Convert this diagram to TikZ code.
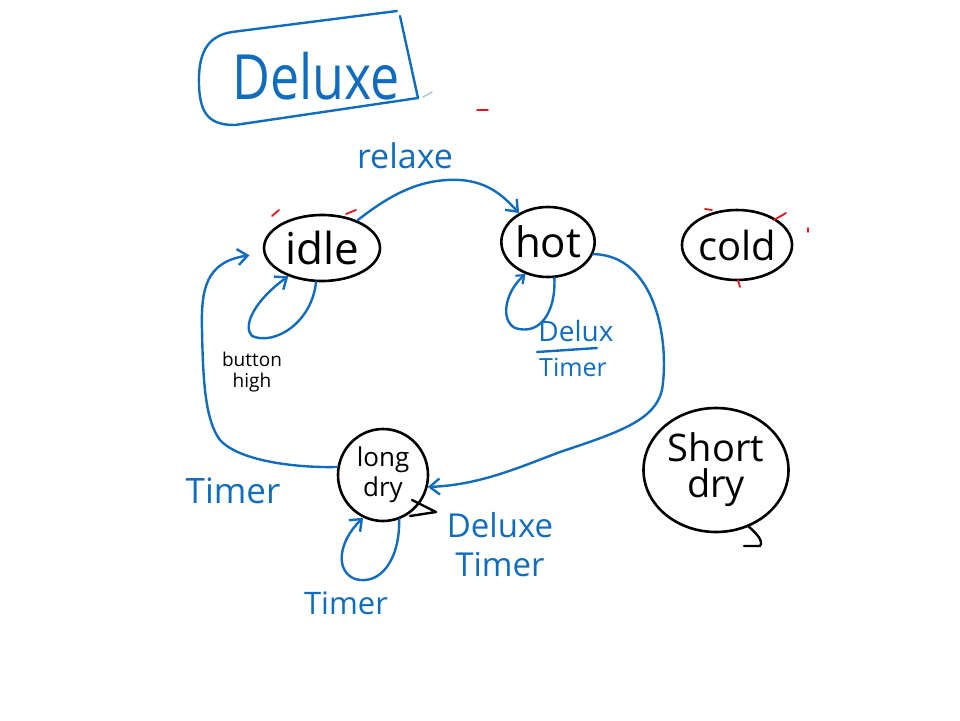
\documentclass[tikz,border=0pt]{standalone}
\usepackage{fontspec}
\setmainfont{Open Sans}
\usetikzlibrary{shapes.geometric,arrows.meta}
\definecolor{ink}{RGB}{18,108,190}
\definecolor{mark}{RGB}{225,20,30}
\begin{document}
\begin{tikzpicture}[x=1pt,y=-1pt,line cap=round,line join=round,
  state/.style={draw=black,line width=2.6pt,ellipse,inner sep=0pt,align=center},
  wire/.style={draw=ink,line width=2.4pt},
  tip/.style={-{Straight Barb[length=10pt,width=16pt,line width=2.4pt]}},
  lbl/.style={text=ink,inner sep=0pt},
  fs/.style={font=\fontsize{#1}{#1}\selectfont},
  tick/.style={draw=mark,line width=1.8pt}]
\useasboundingbox (0,0) rectangle (960,720);

% title frame
\draw[wire] (397,11) -- (232,32) .. controls (206,36) and (198,55) .. (199,85)
  .. controls (200,115) and (210,125) .. (235,125) -- (418,98) -- (400,16);
\node[lbl,fs=52,yscale=1.2] (title) at (316,76) {Deluxe};
\draw[draw=ink!45,line width=1.2pt] (423,97) -- (432,92);

% states
\node[state,minimum width=116pt,minimum height=66pt,fs=44] (idle) at (322,248) {idle};
\node[state,minimum width=84pt,minimum height=70pt,fs=42] (hot) at (548,242) {hot};
\node[state,minimum width=106pt,minimum height=70pt,fs=40] (cold) at (737,245) {cold};
\node[state,minimum width=90pt,minimum height=92pt,fs=26] (long) at (383,475) {long\\[4pt]dry};
\node[state,minimum width=145pt,minimum height=124pt,fs=38] (short) at (716,470) {Short\\[-2pt]dry};

% little tails on the dry states
\draw[black,line width=2.4pt] (412,500) -- (436,512) -- (410,516);
\draw[black,line width=2.4pt] (748,526) .. controls (756,533) and (764,541) .. (760,546) -- (744,546);

% transitions
\draw[wire,tip] (idle.38) .. controls (390,195) and (420,178) .. (460,180)
  .. controls (490,182) and (505,198) .. (hot.135);
\node[lbl,fs=34] (lrelaxe) at (405,156) {relaxe};

\draw[wire,tip] (idle.-100) .. controls (312,322) and (275,346) .. (252,336)
  .. controls (242,326) and (255,300) .. (idle.-140);
\node[text=black,inner sep=0pt,fs=19,align=center] (lbutton) at (252,372) {button\\[2pt]high};

\draw[wire,-{Straight Barb[length=7pt,width=11pt,line width=2.2pt]}] (hot.-80)
  .. controls (556,312) and (540,336) .. (515,328)
  .. controls (500,320) and (505,292) .. (hot.-125);
\node[lbl,fs=28] (ldelux) at (576,331) {Delux};
\draw[wire] (537,352) -- (597,348);
\node[lbl,fs=25] (ltimerhot) at (573,367) {Timer};

\draw[wire,tip] (hot.-15) .. controls (655,255) and (670,340) .. (662,390)
  .. controls (655,420) and (620,432) .. (560,452)
  .. controls (520,467) and (480,485) .. (long.-15);
\node[lbl,fs=33,align=center] (ldeltimer) at (500,545) {Deluxe\\[6pt]Timer};

\draw[wire,tip,shorten >=14pt] (long.170) .. controls (300,468) and (240,462) .. (220,440)
  .. controls (205,420) and (203,380) .. (202,330)
  .. controls (201,290) and (205,262) .. (idle.185);
\node[lbl,fs=35] (ltimerleft) at (233,491) {Timer};

\draw[wire,tip] (long.-70) .. controls (400,560) and (380,586) .. (355,579)
  .. controls (335,571) and (338,542) .. (long.-115);
\node[lbl,fs=31] (ltimerloop) at (346,603) {Timer};

% stray pen marks
\draw[tick] (477,110) -- (488,110);
\draw[tick] (272,216) -- (279,210);
\draw[tick] (346,214) -- (356,210);
\draw[tick] (705,209) -- (712,210);
\draw[tick] (774,220) -- (786,213);
\draw[tick] (808,228) -- (808,232);
\draw[tick] (738,280) -- (740,287);
\end{tikzpicture}
\end{document}
